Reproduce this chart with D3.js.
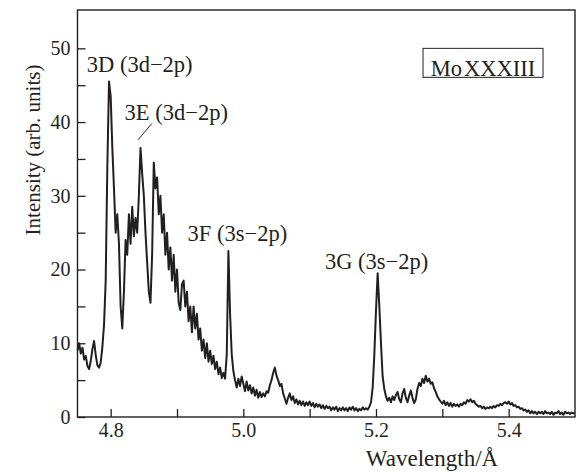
<!DOCTYPE html>
<html>
<head>
<meta charset="utf-8">
<script src="https://cdn.jsdelivr.net/npm/d3@7"></script>
<style>
  body { margin: 0; background: #fff; }
  svg text { font-family: "Liberation Serif", "DejaVu Serif", serif; fill: #231f20; }
  .frame { fill: none; stroke: #231f20; stroke-width: 1.4; }
  .tick line { stroke: #231f20; stroke-width: 1.3; }
  .spectrum { fill: none; stroke: #231f20; stroke-width: 2; stroke-linejoin: round; }
</style>
</head>
<body>
<div id="chart"></div>
<script>
// Mo XXXIII spectrum on a 0.0025 A grid starting at 4.75 A
const lambdaStart = 4.75;
const lambdaStep = 0.0025;
const intensity = [
  9.0, 10.0, 8.6, 9.4, 7.8, 8.3, 6.9, 6.5, 7.6, 9.2, 10.3, 8.4, 7.0, 6.7, 7.4, 9.5, 12.5, 18.5, 34.0, 45.5,
  43.5, 36.5, 31.0, 25.0, 27.5, 23.5, 15.0, 12.0, 17.0, 24.0, 22.0, 27.5, 23.5, 28.5, 24.5, 27.0, 25.0, 30.0, 36.5, 33.0,
  30.0, 25.0, 21.0, 17.0, 15.5, 22.0, 34.5, 31.0, 32.5, 27.5, 30.0, 25.0, 27.5, 22.0, 25.0, 20.0, 23.0, 18.5, 22.0, 17.0,
  20.0, 15.5, 14.5, 18.0, 18.5, 15.0, 17.0, 13.0, 15.0, 11.5, 15.0, 12.0, 14.0, 10.5, 12.0, 9.0, 10.5, 8.0, 10.0, 7.5,
  9.0, 7.2, 8.3, 6.5, 7.5, 5.8, 6.7, 5.3, 6.0, 5.2, 8.5, 22.5, 14.0, 8.5, 6.2, 5.0, 4.0, 5.2, 4.2, 5.5,
  4.5, 3.5, 4.8, 3.6, 4.3, 3.2, 4.0, 2.9, 3.7, 2.6, 3.4, 2.7, 3.2, 2.8, 3.5, 3.3, 4.3, 5.0, 6.0, 6.7,
  5.6, 5.0, 4.2, 4.5, 3.2, 2.5, 1.8, 2.6, 3.2, 2.3, 2.8, 1.9, 2.4, 1.7, 2.2, 1.6, 2.1, 1.5, 2.0, 1.6,
  2.1, 1.5, 1.9, 1.3, 1.8, 1.4, 1.7, 1.2, 1.6, 1.1, 1.5, 1.2, 1.4, 0.9, 1.3, 1.0, 1.4, 0.8, 1.2, 0.9,
  1.3, 0.9, 1.2, 0.8, 1.3, 1.0, 1.4, 0.9, 1.2, 0.8, 1.1, 0.9, 1.3, 1.0, 1.2, 1.0, 1.4, 2.0, 4.0, 8.5,
  14.5, 19.5, 15.0, 10.0, 5.5, 3.8, 2.8, 2.2, 2.6, 2.0, 2.8, 2.3, 3.0, 3.4, 2.4, 2.0, 3.2, 3.8, 2.6, 2.0,
  2.9, 3.6, 2.6, 1.9, 2.4, 3.8, 4.6, 4.2, 5.2, 4.6, 5.6, 4.8, 5.2, 4.5, 4.7, 3.9, 3.4, 2.8, 2.4, 2.1,
  1.8, 2.2, 1.6, 2.0, 1.5, 1.9, 1.4, 1.8, 1.5, 1.7, 1.4, 1.8, 1.6, 2.0, 1.8, 2.3, 2.1, 2.4, 2.0, 2.2,
  1.8, 1.6, 1.4, 1.5, 1.2, 1.4, 1.1, 1.3, 1.2, 1.4, 1.2, 1.5, 1.3, 1.6, 1.5, 1.8, 1.6, 1.9, 2.0, 1.8,
  2.1, 1.7, 1.9, 1.5, 1.6, 1.3, 1.4, 1.1, 1.2, 0.9, 1.0, 0.7, 0.9, 0.5, 0.8, 0.5, 0.7, 0.4, 0.7, 0.5,
  0.7, 0.4, 0.8, 0.5, 0.6, 0.4, 0.7, 0.3, 0.6, 0.5, 0.8, 0.4, 0.6, 0.3, 0.7, 0.5, 0.6, 0.4, 0.6, 0.5,
  0.5
];

const xTicks = [4.8, 5.0, 5.2, 5.4];
const xMinorTicks = [4.9, 5.1, 5.3];
const yTicks = [0, 10, 20, 30, 40, 50];
const yMinorTicks = [5, 15, 25, 35, 45];

// line labels: text, wavelength / intensity of the text anchor
const lineLabels = [
  { text: '3D (3d\u22122p)', x: 4.764, y: 46.8 },
  { text: '3E (3d\u22122p)', x: 4.821, y: 40.3 },
  { text: '3F (3s\u22122p)', x: 4.916, y: 23.9 },
  { text: '3G (3s\u22122p)', x: 5.123, y: 20.1 }
];
const ionLabel = 'Mo\u200AXXXIII';

const width = 578, height = 474;
const margin = { top: 10, right: 3, bottom: 57, left: 77.5 };

const data = intensity.map((v, i) => ({ w: lambdaStart + i * lambdaStep, v: v }));

const svg = d3.select('#chart').append('svg')
  .attr('width', width)
  .attr('height', height);

const xScale = d3.scaleLinear()
  .domain([4.75, 5.5])
  .range([margin.left, width - margin.right]);

const yScale = d3.scaleLinear()
  .domain([0, 55.2])
  .range([height - margin.bottom, margin.top]);

const plotW = width - margin.right - margin.left;
const plotH = height - margin.bottom - margin.top;

// spectrum
svg.append('path')
  .datum(data)
  .attr('class', 'spectrum')
  .attr('d', d3.line()
    .x(d => xScale(d.w))
    .y(d => yScale(d.v)));

// bottom axis, ticks pointing into the plot
const xAxis = svg.append('g')
  .attr('transform', 'translate(0,' + yScale(0) + ')')
  .call(d3.axisBottom(xScale)
    .tickValues(xTicks.concat(xMinorTicks))
    .tickSize(-8)
    .tickFormat(d => xTicks.includes(d) ? d3.format('.1f')(d) : ''));
xAxis.select('.domain').remove();
xAxis.selectAll('text')
  .attr('y', 6)
  .attr('dy', '0.71em')
  .style('font-size', '20px');

// left axis
const yAxis = svg.append('g')
  .attr('transform', 'translate(' + xScale(4.75) + ',0)')
  .call(d3.axisLeft(yScale)
    .tickValues(yTicks.concat(yMinorTicks))
    .tickSize(-8)
    .tickFormat(d => yTicks.includes(d) ? d : ''));
yAxis.select('.domain').remove();
yAxis.selectAll('text')
  .attr('x', -7)
  .style('font-size', '20px');

// frame
svg.append('rect')
  .attr('class', 'frame')
  .attr('x', margin.left)
  .attr('y', margin.top)
  .attr('width', plotW)
  .attr('height', plotH);

// axis titles
svg.append('text')
  .attr('transform', 'translate(40,150) rotate(-90)')
  .attr('text-anchor', 'middle')
  .style('font-size', '21px')
  .text('Intensity (arb. units)');

svg.append('text')
  .attr('x', 432)
  .attr('y', 466)
  .attr('text-anchor', 'middle')
  .style('font-size', '23px')
  .text('Wavelength/\u00C5');

// peak labels
svg.append('g')
  .selectAll('text')
  .data(lineLabels)
  .join('text')
  .attr('x', d => xScale(d.x))
  .attr('y', d => yScale(d.y))
  .style('font-size', '22.5px')
  .text(d => d.text);

// leader from the 3E label down to its peak
svg.append('line')
  .attr('x1', xScale(4.8620)).attr('y1', yScale(39.8))
  .attr('x2', xScale(4.8413)).attr('y2', yScale(37.6))
  .attr('stroke', '#231f20')
  .attr('stroke-width', 1);

// ion label in a box
const ion = svg.append('g');
ion.append('rect')
  .attr('x', xScale(5.2709))
  .attr('y', yScale(50.0))
  .attr('width', 120)
  .attr('height', 29)
  .attr('fill', '#fff')
  .attr('stroke', '#231f20')
  .attr('stroke-width', 1);
ion.append('text')
  .attr('x', xScale(5.2709) + 60)
  .attr('y', yScale(46.3))
  .attr('text-anchor', 'middle')
  .style('font-size', '22.5px')
  .text(ionLabel);
</script>
</body>
</html>
